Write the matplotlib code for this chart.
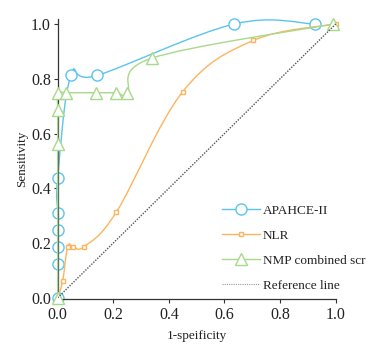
import numpy as np
import matplotlib.pyplot as plt
from matplotlib.path import Path
from matplotlib.patches import PathPatch
from matplotlib.lines import Line2D

plt.rcParams['font.family'] = ['Liberation Serif', 'DejaVu Serif']

# ROC points
apache_x = [0.0, 0.0, 0.0, 0.0, 0.0, 0.0, 0.048, 0.142, 0.635, 0.925]
apache_y = [0.0, 0.124, 0.187, 0.248, 0.311, 0.438, 0.814, 0.812, 1.0, 1.0]

nlr_x = [0.0, 0.018, 0.036, 0.056, 0.095, 0.211, 0.45, 0.704, 1.0]
nlr_y = [0.0, 0.062, 0.187, 0.187, 0.187, 0.313, 0.753, 0.94, 1.0]

nmp_x = [0.0, 0.0, 0.0, 0.0, 0.030, 0.137, 0.211, 0.25, 0.338, 0.99]
nmp_y = [0.0, 0.562, 0.686, 0.749, 0.749, 0.749, 0.749, 0.749, 0.875, 1.0]

ref_x = [0.0, 1.0]
ref_y = [0.0, 1.0]

labels = ['APAHCE-II', 'NLR', 'NMP combined scr', 'Reference line']
colors = ['#5BC4EE', '#FDB45E', '#A8D98A', '#555555']


def smooth_path(xs, ys, s=0.18):
    # cubic bezier through the points (catmull-rom style control points)
    pts = np.column_stack([xs, ys]).astype(float)
    n = len(pts)
    verts = [pts[0]]
    codes = [Path.MOVETO]
    for i in range(n - 1):
        p0 = pts[max(i - 1, 0)]
        p1 = pts[i]
        p2 = pts[i + 1]
        p3 = pts[min(i + 2, n - 1)]
        c1 = p1 + s * (p2 - p0)
        c2 = p2 - s * (p3 - p1)
        verts += [c1, c2, p2]
        codes += [Path.CURVE4] * 3
    return Path(verts, codes)


fig = plt.figure(figsize=(3.88, 3.47), dpi=100)
ax = fig.add_axes([0.1487, 0.138, 0.7165, 0.807])

series = [(apache_x, apache_y, 'o', 8, colors[0]),
          (nlr_x, nlr_y, 's', 3.5, colors[1]),
          (nmp_x, nmp_y, '^', 8, colors[2])]

for i, (xs, ys, mk, ms, c) in enumerate(series):
    ax.add_patch(PathPatch(smooth_path(xs, ys), fill=False, edgecolor=c,
                           lw=1.0, zorder=2 + i, clip_on=False))
    ax.plot(xs, ys, linestyle='none', marker=mk, markersize=ms,
            markerfacecolor='white', markeredgecolor=c, markeredgewidth=1.0,
            zorder=2.5 + i, clip_on=False)

ax.plot(ref_x, ref_y, linestyle=(0, (1, 1)), color=colors[3], lw=1.0, zorder=6)

ax.set_xlim(0, 1.0)
ax.set_ylim(-0.005, 1.018)
ax.set_xticks([0, 0.2, 0.4, 0.6, 0.8, 1.0])
ax.set_yticks([0, 0.2, 0.4, 0.6, 0.8, 1.0])
ax.set_xticklabels(['0.0', '0.2', '0.4', '0.6', '0.8', '1.0'])
ax.set_yticklabels(['0.0', '0.2', '0.4', '0.6', '0.8', '1.0'])
ax.tick_params(direction='out', length=3, width=0.8, colors='#333333',
               labelsize=11.5, labelcolor='#222222', pad=2)
ax.tick_params(axis='x', pad=3)
for side in ['top', 'right']:
    ax.spines[side].set_visible(False)
for side in ['left', 'bottom']:
    ax.spines[side].set_color('#333333')
    ax.spines[side].set_linewidth(0.9)

ax.set_xlabel('1-speificity', fontsize=9.5, color='#222222', labelpad=5)
ax.set_ylabel('Sensitivity', fontsize=9.5, color='#222222', labelpad=2)

handles = [Line2D([], [], color=colors[0], lw=1.0, marker='o', markersize=8,
                  markerfacecolor='white', markeredgecolor=colors[0]),
           Line2D([], [], color=colors[1], lw=1.0, marker='s', markersize=3.5,
                  markerfacecolor='white', markeredgecolor=colors[1]),
           Line2D([], [], color=colors[2], lw=1.0, marker='^', markersize=8,
                  markerfacecolor='white', markeredgecolor=colors[2]),
           Line2D([], [], color='#999999', lw=0.8, linestyle=(0, (1, 1)))]
fig.legend(handles, labels, loc='upper left', bbox_to_anchor=(0.572, 0.41),
           frameon=False, fontsize=9.5, handlelength=2.9, handletextpad=0.2,
           labelspacing=0.97, borderpad=0, borderaxespad=0, labelcolor='#222222')

fig.savefig('out.png', dpi=100)
